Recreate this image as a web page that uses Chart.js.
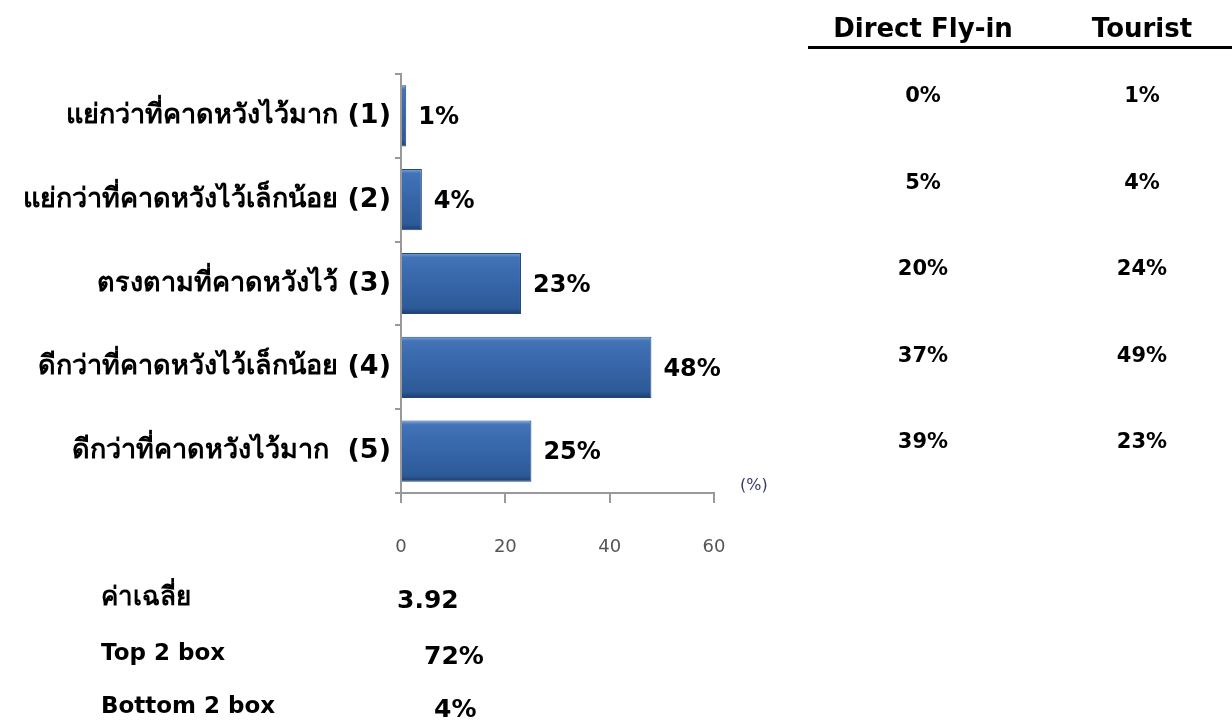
<!DOCTYPE html>
<html>
<head>
<meta charset="utf-8">
<script src="https://cdn.jsdelivr.net/npm/chart.js@4"></script>
<style>
  html, body { margin: 0; padding: 0; background: #fff; }
  #wrap { position: relative; width: 1232px; height: 721px; }
</style>
</head>
<body>
<div id="wrap"><canvas id="satChart" width="1232" height="721"></canvas></div>
<script>
// chart data
const categories = [
    'แย่กว่าที่คาดหวังไว้มาก (1)',
    'แย่กว่าที่คาดหวังไว้เล็กน้อย (2)',
    'ตรงตามที่คาดหวังไว้ (3)',
    'ดีกว่าที่คาดหวังไว้เล็กน้อย (4)',
    'ดีกว่าที่คาดหวังไว้มาก  (5)'
];
const totalPct = [1, 4, 23, 48, 25];
const xTicks = [0, 20, 40, 60];

// comparison table on the right
const tableHeaders = ['Direct Fly-in', 'Tourist'];
const directFlyIn = ['0%', '5%', '20%', '37%', '39%'];
const tourist = ['1%', '4%', '24%', '49%', '23%'];

// summary below the chart
const summaryLabels = ['ค่าเฉลี่ย', 'Top 2 box', 'Bottom 2 box'];
const summaryValues = ['3.92', '72%', '4%'];

const FONT = '"DejaVu Sans", Tahoma, Verdana, sans-serif';

function barGradient(context) {
    const chart = context.chart;
    const yScale = chart.scales.y;
    if (!chart.chartArea || !yScale || context.dataIndex === undefined) return '#2f5f9d';
    const band = (yScale.bottom - yScale.top) / categories.length;
    const yc = yScale.getPixelForValue(context.dataIndex);
    const half = band * 0.73 / 2;
    if (!isFinite(yc) || !isFinite(half)) return '#2f5f9d';
    const g = chart.ctx.createLinearGradient(0, yc - half, 0, yc + half);
    g.addColorStop(0, '#7aa6de');
    g.addColorStop(0.07, '#4273b7');
    g.addColorStop(0.5, '#3665a8');
    g.addColorStop(0.9, '#2d5a97');
    g.addColorStop(1, '#1d3d6e');
    return g;
}

const extrasPlugin = {
    id: 'extras',
    afterDatasetsDraw(chart) {
        const ctx = chart.ctx;
        const meta = chart.getDatasetMeta(0);
        ctx.save();
        // value labels next to bars
        ctx.fillStyle = '#000';
        ctx.font = 'bold 24px ' + FONT;
        ctx.textAlign = 'left';
        ctx.textBaseline = 'middle';
        meta.data.forEach((bar, i) => {
            ctx.fillText(totalPct[i] + '%', bar.x + 12, bar.y + 2);
        });

        // (%) unit
        ctx.font = '16px ' + FONT;
        ctx.fillStyle = '#3a3a6a';
        ctx.textAlign = 'left';
        ctx.fillText('(%)', 740, 486);

        // right table
        const colX = [923, 1142];
        ctx.fillStyle = '#000';
        ctx.font = 'bold 26px ' + FONT;
        ctx.textAlign = 'center';
        ctx.textBaseline = 'alphabetic';
        tableHeaders.forEach((h, i) => ctx.fillText(h, colX[i], 37));
        ctx.strokeStyle = '#000';
        ctx.lineWidth = 3;
        ctx.beginPath();
        ctx.moveTo(808, 47.5);
        ctx.lineTo(1232, 47.5);
        ctx.stroke();

        ctx.font = 'bold 21px ' + FONT;
        ctx.textBaseline = 'middle';
        directFlyIn.forEach((v, i) => {
            const y = 97 + i * 86.5;
            ctx.fillText(v, colX[0], y);
            ctx.fillText(tourist[i], colX[1], y);
        });

        // summary rows
        const rowY = [598, 654, 707];
        const valX = [397, 424, 434];
        ctx.textAlign = 'left';
        summaryLabels.forEach((l, i) => {
            ctx.font = (i === 0 ? 'bold 26px ' : 'bold 23px ') + FONT;
            ctx.fillText(l, 101, rowY[i]);
            ctx.font = 'bold 25px ' + FONT;
            ctx.fillText(summaryValues[i], valX[i], rowY[i] + 3);
        });
        ctx.restore();
    }
};

new Chart(document.getElementById('satChart'), {
    type: 'bar',
    data: {
        labels: categories,
        datasets: [{
            data: totalPct,
            backgroundColor: barGradient,
            borderColor: '#22487f',
            borderWidth: 1,
            borderSkipped: 'left',
            categoryPercentage: 1,
            barPercentage: 0.73
        }]
    },
    options: {
        indexAxis: 'y',
        responsive: false,
        animation: false,
        events: [],
        layout: { padding: { top: 74, right: 518, left: 0, bottom: 0 } },
        plugins: {
            legend: { display: false },
            tooltip: { enabled: false }
        },
        scales: {
            x: {
                min: 0,
                max: 60,
                afterBuildTicks(scale) { scale.ticks = xTicks.map(v => ({ value: v })); },
                afterFit(scale) { scale.height = 721 - 493; },
                border: { color: '#999', width: 2 },
                grid: { drawOnChartArea: false, drawTicks: true, tickLength: 10, color: '#999', lineWidth: 2 },
                ticks: { color: '#555', font: { family: FONT, size: 18 }, padding: 34 }
            },
            y: {
                afterFit(scale) { scale.width = 401; },
                border: { color: '#999', width: 2 },
                grid: { offset: true, drawOnChartArea: false, drawTicks: true, tickLength: 6, color: '#999', lineWidth: 2 },
                ticks: { color: '#000', font: { family: FONT, size: 27, weight: 'bold' }, padding: 4 }
            }
        }
    },
    plugins: [extrasPlugin]
});
</script>
</body>
</html>
